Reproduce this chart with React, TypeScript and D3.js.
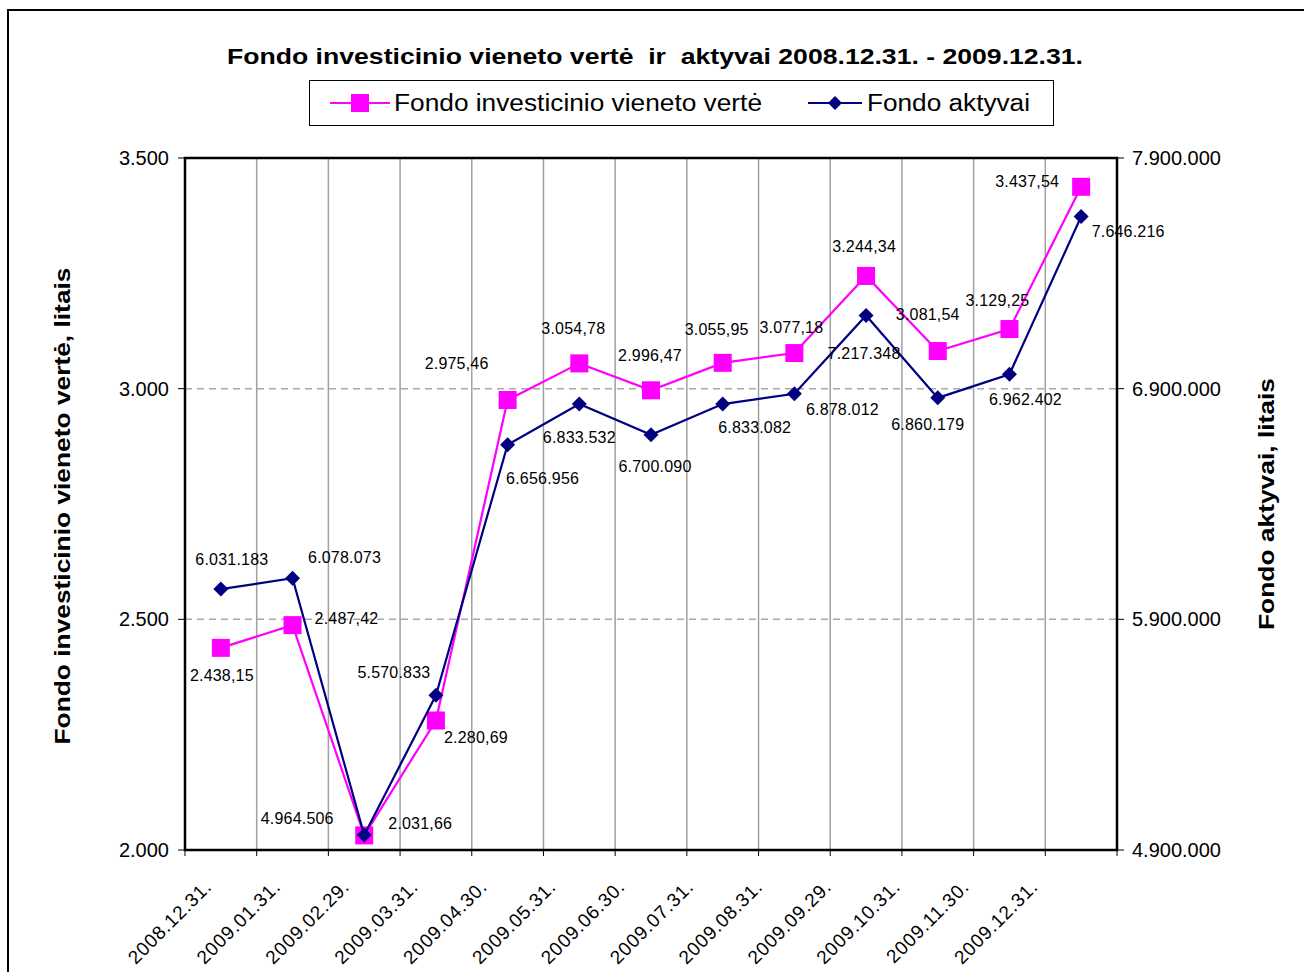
import React from "react";
import * as d3 from "d3";

const categories = [
  "2008.12.31.", "2009.01.31.", "2009.02.29.", "2009.03.31.", "2009.04.30.",
  "2009.05.31.", "2009.06.30.", "2009.07.31.", "2009.08.31.", "2009.09.29.",
  "2009.10.31.", "2009.11.30.", "2009.12.31.",
];
const unitValues = [
  2438.15, 2487.42, 2031.66, 2280.69, 2975.46, 3054.78, 2996.47,
  3055.95, 3077.18, 3244.34, 3081.54, 3129.25, 3437.54,
];
const assetValues = [
  6031183, 6078073, 4964506, 5570833, 6656956, 6833532, 6700090,
  6833082, 6878012, 7217348, 6860179, 6962402, 7646216,
];
const unitTicks = [2000, 2500, 3000, 3500];
const assetTicks = [4900000, 5900000, 6900000, 7900000];

const title = "Fondo investicinio vieneto vertė  ir  aktyvai 2008.12.31. - 2009.12.31.";
const unitName = "Fondo investicinio vieneto vertė";
const assetName = "Fondo aktyvai";
const leftTitle = "Fondo investicinio vieneto vertė, litais";
const rightTitle = "Fondo aktyvai, litais";

// label nudges (px), like Excel's manually dragged data labels
const unitLabelOff = [
  [1, 28], [54, -7], [56, -12], [40, 17], [-51, -37], [-6, -35], [-1, -35],
  [-6, -33], [-3, -26], [-2, -30], [-10, -37], [-12, -29], [-54, -5],
];
const assetLabelOff = [
  [11, -30], [52, -21], [-67, -17], [-42, -23], [35, 34], [0, 33], [4, 32],
  [32, 23], [48, 16], [-2, 38], [-10, 27], [16, 25], [47, 15],
];

const MAGENTA = "#ff00ff";
const NAVY = "#000080";
const FONT = "'Liberation Sans', Arial, sans-serif";

const lt = d3.formatLocale({ decimal: ",", thousands: ".", grouping: [3], currency: ["", ""] });
const fmtInt = lt.format(",d");
const fmtDec = lt.format(",.2f");

export default function App() {
  const W = 1304, H = 972;
  const left = 185, right = 1117, top = 158, bottom = 850;

  const x = d3.scaleBand<string>().domain(categories).range([left, right]).padding(0);
  const bw = x.bandwidth();
  const cx = (i: number) => (x(categories[i]) as number) + bw / 2;
  const yL = d3.scaleLinear().domain([2000, 3500]).range([bottom, top]);
  const yR = d3.scaleLinear().domain([4900000, 7900000]).range([bottom, top]);
  // tick labels drift a bit in the original rendering
  const labelX = d3.scaleLinear().domain([0, categories.length - 1]).range([cx(0) - 8, cx(12) - 42]);

  const unitLine = d3.line<number>().x((_, i) => cx(i)).y((d) => yL(d));
  const assetLine = d3.line<number>().x((_, i) => cx(i)).y((d) => yR(d));

  const boundaries = categories.map((c) => x(c) as number).concat([right]);

  const diamond = (px: number, py: number, r: number) =>
    `M${px},${py - r}L${px + r},${py}L${px},${py + r}L${px - r},${py}Z`;

  return (
    <svg width={W} height={H} style={{ position: "absolute", left: 0, top: 0, background: "#fff" }}
      fontFamily={FONT}>
      <rect x={0} y={0} width={W} height={H} fill="#fff" />
      <rect x={8} y={10} width={W + 20} height={H + 20} fill="none" stroke="#000" strokeWidth={2} />

      <text x={655} y={64} textAnchor="middle" fontSize={22} fontWeight="bold" style={{ whiteSpace: "pre" }}
        textLength={856} lengthAdjust="spacingAndGlyphs">{title}</text>

      {/* legend */}
      <rect x={309.5} y={80.5} width={744} height={45} fill="#fff" stroke="#000" strokeWidth={1} />
      <line x1={330} x2={390} y1={103} y2={103} stroke={MAGENTA} strokeWidth={2} />
      <rect x={351} y={94} width={18} height={18} fill={MAGENTA} />
      <text x={394} y={111} fontSize={23} textLength={368} lengthAdjust="spacingAndGlyphs">{unitName}</text>
      <line x1={808} x2={862} y1={103} y2={103} stroke={NAVY} strokeWidth={2} />
      <path d={diamond(835, 103, 7)} fill={NAVY} />
      <text x={867} y={111} fontSize={23} textLength={163} lengthAdjust="spacingAndGlyphs">{assetName}</text>

      {/* grid */}
      {boundaries.slice(1, -1).map((b, i) => (
        <line key={"vg" + i} x1={b} x2={b} y1={top} y2={bottom} stroke="#a0a0a0" strokeWidth={1.5} />
      ))}
      {unitTicks.slice(1, -1).map((t) => (
        <line key={"hg" + t} x1={left} x2={right} y1={yL(t)} y2={yL(t)} stroke="#a8a8a8"
          strokeWidth={1.5} strokeDasharray="7,5" />
      ))}

      {/* plot frame */}
      <rect x={left} y={top} width={right - left} height={bottom - top} fill="none" stroke="#000" strokeWidth={2.5} />

      {/* ticks */}
      {unitTicks.map((t) => (
        <g key={"lt" + t}>
          <line x1={left - 7} x2={left} y1={yL(t)} y2={yL(t)} stroke="#000" strokeWidth={1} />
          <text x={169} y={yL(t)} dy="0.35em" textAnchor="end" fontSize={20}>{fmtInt(t)}</text>
        </g>
      ))}
      {assetTicks.map((t) => (
        <g key={"rt" + t}>
          <line x1={right} x2={right + 7} y1={yR(t)} y2={yR(t)} stroke="#000" strokeWidth={1} />
          <text x={1132} y={yR(t)} dy="0.35em" textAnchor="start" fontSize={20}>{fmtInt(t)}</text>
        </g>
      ))}
      {boundaries.map((b, i) => (
        <line key={"bt" + i} x1={b} x2={b} y1={bottom} y2={bottom + 6} stroke="#000" strokeWidth={1} />
      ))}
      {categories.map((c, i) => (
        <text key={c} transform={`translate(${labelX(i)},${888}) rotate(-45)`} textAnchor="end"
          fontSize={19} letterSpacing={0.8}>{c}</text>
      ))}

      {/* axis titles */}
      <text transform={`translate(70,506) rotate(-90)`} textAnchor="middle" fontSize={22} fontWeight="bold"
        textLength={477} lengthAdjust="spacingAndGlyphs">{leftTitle}</text>
      <text transform={`translate(1274,504) rotate(-90)`} textAnchor="middle" fontSize={22} fontWeight="bold"
        textLength={252} lengthAdjust="spacingAndGlyphs">{rightTitle}</text>

      {/* series */}
      <path d={unitLine(unitValues) as string} fill="none" stroke={MAGENTA} strokeWidth={2.2} />
      {unitValues.map((v, i) => (
        <rect key={"um" + i} x={cx(i) - 9} y={yL(v) - 9} width={18} height={18} fill={MAGENTA} />
      ))}
      <path d={assetLine(assetValues) as string} fill="none" stroke={NAVY} strokeWidth={2.2} />
      {assetValues.map((v, i) => (
        <path key={"am" + i} d={diamond(cx(i), yR(v), 7.5)} fill={NAVY} />
      ))}

      {/* data labels */}
      {unitValues.map((v, i) => (
        <text key={"ul" + i} x={cx(i) + unitLabelOff[i][0]} y={yL(v) + unitLabelOff[i][1]} dy="0.35em"
          textAnchor="middle" fontSize={16} letterSpacing={0.2}>{fmtDec(v)}</text>
      ))}
      {assetValues.map((v, i) => (
        <text key={"al" + i} x={cx(i) + assetLabelOff[i][0]} y={yR(v) + assetLabelOff[i][1]} dy="0.35em"
          textAnchor="middle" fontSize={16} letterSpacing={0.2}>{fmtInt(v)}</text>
      ))}
    </svg>
  );
}
